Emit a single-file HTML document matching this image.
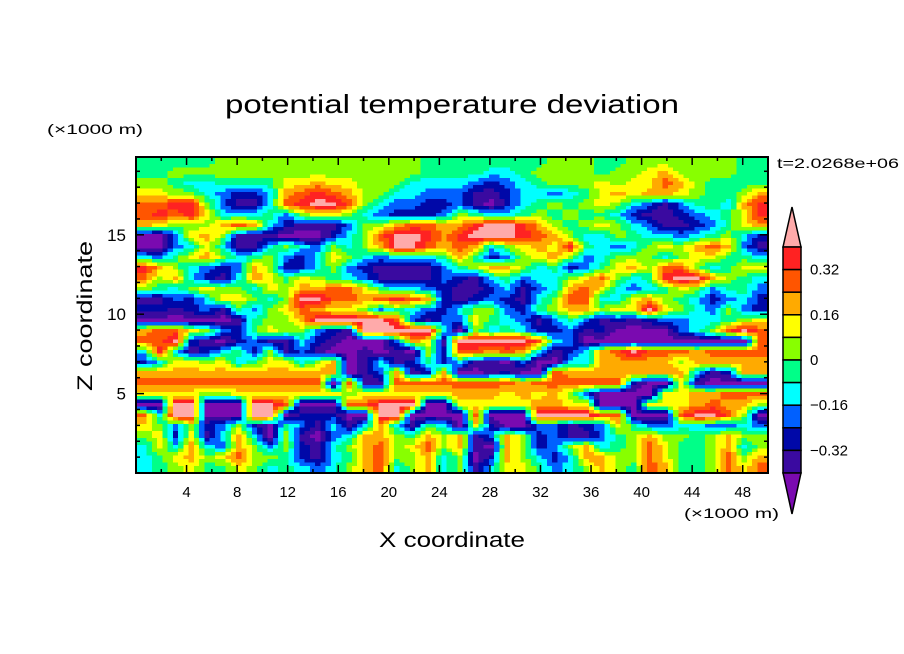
<!DOCTYPE html>
<html><head><meta charset="utf-8"><style>
html,body{margin:0;padding:0;background:#fff;}
svg{display:block;font-family:"Liberation Sans",sans-serif;}
</style></head><body>
<svg id="chart" width="904" height="654" viewBox="0 0 904 654" xmlns="http://www.w3.org/2000/svg">
<rect width="904" height="654" fill="#fff"/>
<text x="225" y="113" font-size="26" textLength="454" lengthAdjust="spacingAndGlyphs">potential temperature deviation</text>
<text x="47" y="134" font-size="14" textLength="96" lengthAdjust="spacingAndGlyphs">(×1000 m)</text>
<text x="777" y="168" font-size="14" textLength="122" lengthAdjust="spacingAndGlyphs">t=2.0268e+06</text>
<text transform="translate(92,316) rotate(-90)" text-anchor="middle" font-size="21" textLength="150" lengthAdjust="spacingAndGlyphs">Z coordinate</text>
<text x="452" y="547" text-anchor="middle" font-size="21" textLength="146" lengthAdjust="spacingAndGlyphs">X coordinate</text>
<text x="684" y="518" font-size="14" textLength="95" lengthAdjust="spacingAndGlyphs">(×1000 m)</text>
<g id="field" shape-rendering="crispEdges"></g>
<g id="axes"></g>
<g id="cbar"></g>
</svg>
<script>
// Level codes 0..b per cell (rows top=z max to bottom=z 0), 40 columns across x 0..50
const fieldRows = [
"55555666666666666655"+"55555566655666666655",
"55666666666666666655"+"55445666656678666655",
"66544555577877666444"+"43234566676779865555",
"77664322489a98664433"+"31124434578788765568",
"99aa631149abb9643322"+"3102456567643135548a",
"9a9a7444536776432223"+"6544565655421123457a",
"87666898421113668998"+"8abba865676431123578",
"0037861110002469bba8"+"abbba986446544345642",
"0034741146436468bb98"+"9846787a543467689831",
"43578645632476434445"+"85236786346664677554",
"a8643238622463211113"+"56886452357869964577",
"96842148757654311113"+"2145344679645abb8654",
"65467664768899754432"+"11241348974345763553",
"1132477646bb9989a982"+"12321469944786542342",
"22123153679877635432"+"466325688677b7643632",
"00000015668bbbbb9313"+"37543135312123344567",
"89976325766321bbbbb4"+"064542231200003469b9",
"99b21023114210003871"+"bbbbb943000000000009",
"4a412452613100101062"+"99898412489b99989999",
"24776745774680141252"+"41103004488888688888",
"88888888888880138128"+"00120098888888841288",
"99999999999909119999"+"99998999999200710000",
"77776677777776777777"+"88878786300007788999",
"00bb000bb900099bbb00"+"77777887700077789886",
"94bb000bb022200bb000"+"09000bbbb990009bb960",
"76362362053141484154"+"07200331237533443343",
"67271484061034886586"+"81386231135686656866",
"47484386362146896796"+"81086236845697556846",
"45786796652145896684"+"60286424886697556968",
"45675576454346894684"+"61477534686598556979"
];
const levelValues = [-0.44,-0.36,-0.28,-0.2,-0.12,-0.04,0.04,0.12,0.2,0.28,0.36,0.44];
const levelColors = ["#7a0ab0","#3a0aa0","#0008a8","#0060ff","#00ffff","#00ff88","#88ff00","#ffff00","#ffaa00","#ff5500","#ff2222","#ffaaaa"];
const cbarTickLabels = ["0.32","0.16","0","\u22120.16","\u22120.32"];
const cbarTickValues = [0.32,0.16,0,-0.16,-0.32];
const xTickLabels = ["4","8","12","16","20","24","28","32","36","40","44","48"];
const yTickLabels = ["5","10","15"];

const NS="http://www.w3.org/2000/svg";
const PL=136,PR=768,PT=157,PB=473,XMAX=50,ZMAX=19.9;
const xs=v=>PL+(v/XMAX)*(PR-PL);
const zs=v=>PB-(v/ZMAX)*(PB-PT);
function mk(tag,attrs,parent){const e=document.createElementNS(NS,tag);for(const k in attrs)e.setAttribute(k,attrs[k]);parent.appendChild(e);return e;}
function levelOf(v){let i=0;for(let k=0;k<levelValues.length;k++){if(Math.abs(levelValues[k]-v)<Math.abs(levelValues[i]-v))i=k;}return i;}

const nR=fieldRows.length,nC=40;
const vals=fieldRows.map(row=>{const a=[];for(let c=0;c<nC;c++){let ch=row[c]||'5';const code=parseInt(ch,16);a.push(levelValues[isNaN(code)?5:Math.min(code,11)]);}return a;});
function V(r,c){r=Math.max(0,Math.min(nR-1,r));c=Math.max(0,Math.min(nC-1,c));return vals[r][c];}
function sample(fr,fc){ // fractional cell-center coords
  const r0=Math.floor(fr),c0=Math.floor(fc),tr=fr-r0,tc=fc-c0;
  return (V(r0,c0)*(1-tc)+V(r0,c0+1)*tc)*(1-tr)+(V(r0+1,c0)*(1-tc)+V(r0+1,c0+1)*tc)*tr;
}
const field=document.getElementById('field');
const S=3; // subdivision
for(let r=0;r<nR*S;r++){
  for(let c=0;c<nC*S;c++){
    const fr=(r+0.5)/S-0.5,fc=(c+0.5)/S-0.5;
    const v=sample(fr,fc);
    const x0=xs(c*XMAX/(nC*S)),x1=xs((c+1)*XMAX/(nC*S));
    const z1=ZMAX-(r*ZMAX/(nR*S)),z0=ZMAX-((r+1)*ZMAX/(nR*S));
    const rc=mk('rect',{x:x0.toFixed(2),y:zs(z1).toFixed(2),width:(x1-x0+0.6).toFixed(2),height:(zs(z0)-zs(z1)+0.6).toFixed(2),fill:levelColors[levelOf(v)]},field);
    
    
  }
}
const axes=document.getElementById('axes');
const frame=mk('rect',{x:PL,y:PT,width:PR-PL,height:PB-PT,fill:'none',stroke:'#000','stroke-width':2},axes);


for(let v=2;v<XMAX;v+=2){
  const L=(v%4===0)?8:4;
  mk('line',{x1:xs(v),x2:xs(v),y1:PB,y2:PB-L,stroke:'#000','stroke-width':1.5},axes);
  mk('line',{x1:xs(v),x2:xs(v),y1:PT,y2:PT+L,stroke:'#000','stroke-width':1.5},axes);
}
xTickLabels.forEach(t=>{
  const tx=mk('text',{x:xs(parseFloat(t)),y:497,'text-anchor':'middle','font-size':15},axes);
  tx.textContent=t;
  
  
});
for(let v=1;v<ZMAX;v+=1){
  const L=(v%5===0)?8:4;
  mk('line',{x1:PL,x2:PL+L,y1:zs(v),y2:zs(v),stroke:'#000','stroke-width':1.5},axes);
  mk('line',{x1:PR,x2:PR-L,y1:zs(v),y2:zs(v),stroke:'#000','stroke-width':1.5},axes);
}
yTickLabels.forEach(t=>{
  const tx=mk('text',{x:126,y:zs(parseFloat(t))+6,'text-anchor':'end','font-size':17},axes);
  tx.textContent=t;
  
  
});
const cb=document.getElementById('cbar');
const CX0=783,CX1=801,CT=247,CB=473,nB=10,bh=(CB-CT)/nB;
const up=mk('polygon',{points:`${CX0},${CT} ${(CX0+CX1)/2},${207} ${CX1},${CT}`,fill:levelColors[11],stroke:'#000','stroke-width':1.5},cb);


for(let i=0;i<nB;i++){
  const b=mk('rect',{x:CX0,y:CT+i*bh,width:CX1-CX0,height:bh,fill:levelColors[10-i],stroke:'#000','stroke-width':1.5},cb);
  
  
}
const dn=mk('polygon',{points:`${CX0},${CB} ${(CX0+CX1)/2},${514} ${CX1},${CB}`,fill:levelColors[0],stroke:'#000','stroke-width':1.5},cb);


const cs=v=>CT+((0.40-v)/0.08)*bh;
cbarTickLabels.forEach((t,i)=>{
  const tx=mk('text',{x:810,y:cs(cbarTickValues[i])+5,'font-size':15},cb);
  tx.textContent=t;
  
  
});
</script>
</body></html>
